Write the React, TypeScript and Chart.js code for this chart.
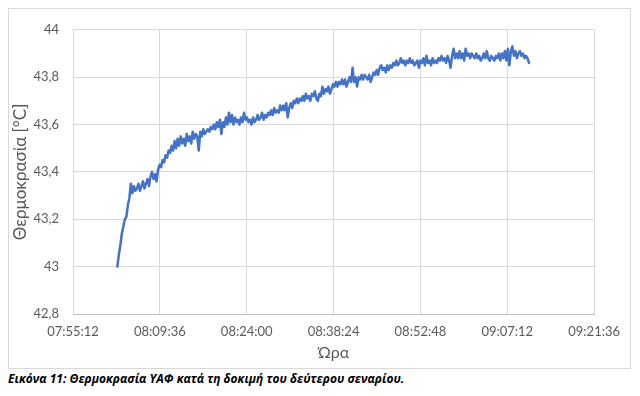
import React, { useEffect, useRef } from "react";
import { Chart, registerables } from "chart.js";

Chart.register(...registerables);

// ---- Data ----
const START_TIME = "08:02:33"; // first sample
const SAMPLE_INTERVAL_S = 15; // seconds between samples
const TEMPERATURES: number[] = [
  43.0, 43.05, 43.09, 43.14, 43.17, 43.2, 43.21, 43.26, 43.29, 43.35,
  43.31, 43.34, 43.32, 43.33, 43.35, 43.32, 43.34, 43.36, 43.33, 43.35,
  43.37, 43.34, 43.38, 43.4, 43.37, 43.39, 43.36, 43.41, 43.43, 43.42,
  43.45, 43.44, 43.47, 43.46, 43.49, 43.48, 43.51, 43.49, 43.53, 43.5,
  43.54, 43.51, 43.55, 43.52, 43.54, 43.51, 43.56, 43.53, 43.55, 43.52,
  43.57, 43.54, 43.56, 43.55, 43.49, 43.57, 43.55, 43.58, 43.56, 43.57,
  43.58, 43.57, 43.59, 43.58, 43.6, 43.58, 43.61, 43.59, 43.62, 43.56,
  43.61, 43.59, 43.63, 43.6, 43.65, 43.61, 43.64, 43.6, 43.63, 43.61,
  43.62, 43.6, 43.63, 43.61, 43.65, 43.62, 43.63, 43.61, 43.62, 43.6,
  43.63, 43.61, 43.62, 43.64, 43.62, 43.63, 43.65, 43.62, 43.64, 43.63,
  43.65, 43.64, 43.66, 43.64, 43.67, 43.65, 43.66, 43.65, 43.68, 43.66,
  43.68, 43.66, 43.69, 43.63, 43.67, 43.69, 43.67, 43.7, 43.69, 43.71,
  43.69, 43.71, 43.7, 43.72, 43.7, 43.73, 43.71, 43.72, 43.7, 43.73,
  43.72, 43.74, 43.71, 43.7, 43.73, 43.72, 43.76, 43.73, 43.75, 43.74,
  43.76, 43.73, 43.75, 43.77, 43.76, 43.78, 43.76, 43.78, 43.77, 43.79,
  43.77, 43.79, 43.76, 43.78, 43.8, 43.78, 43.84, 43.78, 43.8, 43.76,
  43.8, 43.79, 43.81, 43.79, 43.81, 43.8, 43.79, 43.81, 43.78, 43.8,
  43.82, 43.81, 43.83, 43.81, 43.84, 43.85, 43.83, 43.84, 43.82, 43.85,
  43.83, 43.85, 43.84, 43.86, 43.85, 43.87, 43.85, 43.86, 43.88, 43.86,
  43.87, 43.85, 43.87, 43.86, 43.88, 43.86, 43.87, 43.85, 43.86, 43.87,
  43.84, 43.87, 43.86, 43.88, 43.85, 43.89, 43.86, 43.87, 43.85, 43.88,
  43.86, 43.87, 43.86, 43.88, 43.87, 43.89, 43.87, 43.88, 43.86, 43.89,
  43.87, 43.84, 43.89, 43.92, 43.88, 43.9, 43.88, 43.91, 43.88, 43.9,
  43.87, 43.92, 43.89, 43.9, 43.88, 43.9, 43.89, 43.88, 43.9, 43.88,
  43.89, 43.87, 43.88, 43.9, 43.88, 43.91, 43.88, 43.87, 43.89, 43.88,
  43.87, 43.89, 43.88, 43.9, 43.87, 43.9, 43.88, 43.91, 43.87, 43.92,
  43.85, 43.91, 43.93, 43.89, 43.91, 43.88, 43.9, 43.91, 43.89, 43.9,
  43.88, 43.89, 43.88, 43.86,
];

const X_MIN_TIME = "07:55:12";
const X_MAX_TIME = "09:21:36";
const X_STEP_S = 864; // 14:24
const Y_MIN = 42.8;
const Y_MAX = 44;
const Y_STEP = 0.2;

const Y_TITLE = "Θερμοκρασία [°C]";
const X_TITLE = "Ώρα";
const CAPTION = "Εικόνα 11: Θερμοκρασία ΥΑΦ κατά τη δοκιμή του δεύτερου σεναρίου.";

// ---- Helpers ----
const toSec = (t: string) => {
  const [h, m, s] = t.split(":").map(Number);
  return h * 3600 + m * 60 + s;
};
const pad2 = (n: number) => String(n).padStart(2, "0");
const fmtTime = (sec: number) => {
  const s = Math.round(sec);
  return `${pad2(Math.floor(s / 3600))}:${pad2(Math.floor((s % 3600) / 60))}:${pad2(s % 60)}`;
};

const FONT = "Lato, 'Open Sans', 'Noto Sans', sans-serif";

export default function App() {
  const canvasRef = useRef<HTMLCanvasElement | null>(null);

  useEffect(() => {
    if (!canvasRef.current) return;
    const start = toSec(START_TIME);
    const points = TEMPERATURES.map((v, i) => ({ x: start + i * SAMPLE_INTERVAL_S, y: v }));

    const chart = new Chart(canvasRef.current, {
      type: "line",
      data: {
        datasets: [
          {
            data: points,
            borderColor: "#4472C4",
            borderWidth: 2.5,
            borderJoinStyle: "round",
            borderCapStyle: "round",
            pointRadius: 0,
            tension: 0,
            fill: false,
          },
        ],
      },
      options: {
        animation: false,
        responsive: false,
        maintainAspectRatio: false,
        layout: { padding: { left: 0, top: 16, right: 34, bottom: 0 } },
        plugins: { legend: { display: false }, tooltip: { enabled: false } },
        scales: {
          x: {
            type: "linear",
            min: toSec(X_MIN_TIME),
            max: toSec(X_MAX_TIME),
            afterFit: (s: any) => {
              s.height = 54;
            },
            ticks: {
              stepSize: X_STEP_S,
              callback: (v: any) => fmtTime(Number(v)),
              color: "#595959",
              font: { family: FONT, size: 13 },
              padding: 10,
              maxRotation: 0,
              autoSkip: false,
            },
            grid: { color: "#d9d9d9", lineWidth: 1, drawTicks: false },
            border: { display: true, color: "#bfbfbf", width: 1 },
            title: {
              display: true,
              text: X_TITLE,
              color: "#595959",
              font: { family: FONT, size: 16 },
              padding: { top: 0, bottom: 6 },
            },
          },
          y: {
            type: "linear",
            min: Y_MIN,
            max: Y_MAX,
            afterFit: (s: any) => {
              s.width = 65;
            },
            ticks: {
              stepSize: Y_STEP,
              callback: (v: any) => String(Number(Number(v).toFixed(1))).replace(".", ","),
              color: "#595959",
              font: { family: FONT, size: 13 },
              padding: 14,
            },
            grid: { color: "#d9d9d9", lineWidth: 1, drawTicks: false },
            border: { display: false },
            title: {
              display: true,
              text: Y_TITLE,
              color: "#595959",
              font: { family: FONT, size: 17 },
              padding: { top: 2, bottom: 0 },
            },
          },
        },
      },
    });
    return () => chart.destroy();
  }, []);

  return (
    <div style={{ position: "absolute", left: 0, top: 0, width: 640, height: 396, background: "#fff" }}>
      <div
        style={{
          position: "absolute",
          left: 8,
          top: 8,
          width: 623,
          height: 361,
          border: "1px solid #d9d9d9",
          boxSizing: "border-box",
        }}
      />
      <canvas
        ref={canvasRef}
        width={622}
        height={360}
        style={{ position: "absolute", left: 8, top: 8, width: 622, height: 360 }}
      />
      <div
        style={{
          position: "absolute",
          left: 8,
          top: 371,
          fontFamily: "'Open Sans', 'Noto Sans', sans-serif",
          fontWeight: 700,
          fontStyle: "italic",
          fontSize: 12,
          color: "#000",
          whiteSpace: "nowrap",
          lineHeight: "15px",
        }}
      >
        {CAPTION}
      </div>
    </div>
  );
}
